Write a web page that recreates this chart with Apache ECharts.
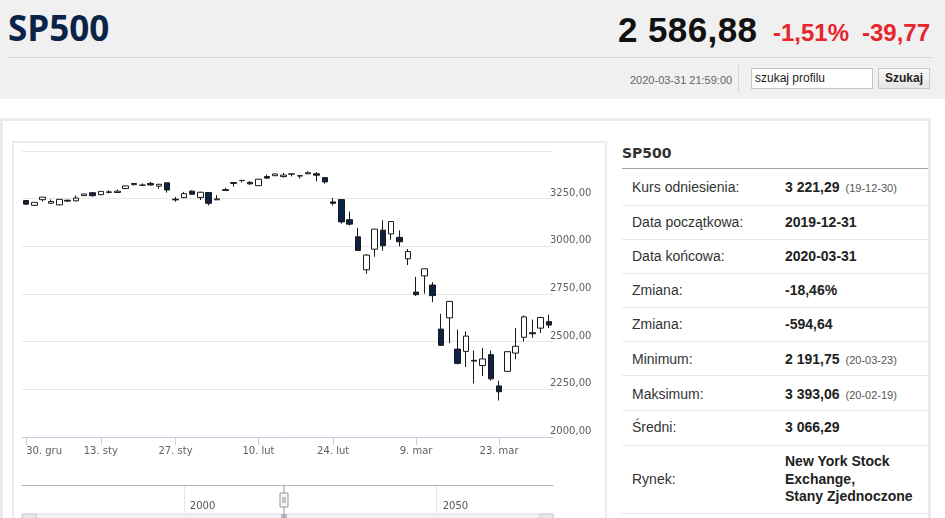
<!DOCTYPE html>
<html><head><meta charset="utf-8">
<script src="https://cdn.jsdelivr.net/npm/echarts@6/dist/echarts.min.js"></script>
<style>
html,body{margin:0;padding:0;width:945px;height:518px;overflow:hidden;background:#fff;font-family:"Liberation Sans",Arial,sans-serif;}
.abs{position:absolute;white-space:nowrap;}
#hdr{position:absolute;left:0;top:0;width:945px;height:99px;background:#f0f0f0;}
#panel{position:absolute;left:0;top:118px;width:931px;height:420px;border:3px solid #ebebeb;box-sizing:border-box;}
#box{position:absolute;left:12px;top:141px;width:595px;height:400px;border:2px solid #ececec;box-sizing:border-box;}
#chart{position:absolute;left:13px;top:142px;width:593px;height:376px;}
.lbl{position:absolute;left:632px;font-size:14px;color:#333;}
.val{position:absolute;left:785px;font-size:14px;color:#222;font-weight:bold;}
.sm{font-size:11px;color:#555;font-weight:normal;margin-left:6px;}
.sep{position:absolute;left:622px;width:306px;height:1px;background:#e8e8e8;}
</style></head>
<body>
<div id="hdr"></div>
<div class="abs" style="left:8px;top:8px;font-family:'Open Sans';font-weight:700;font-size:35px;line-height:40px;color:#0b2347;">SP500</div>
<div class="abs" style="left:618px;top:12px;font-weight:bold;font-size:35px;line-height:35px;color:#111;letter-spacing:0.4px;">2 586,88</div>
<div class="abs" style="left:773px;top:21px;font-weight:bold;font-size:24px;line-height:24px;color:#e8252b;">-1,51%</div>
<div class="abs" style="left:862px;top:21px;font-weight:bold;font-size:24px;line-height:24px;color:#e8252b;">-39,77</div>
<div class="abs" style="left:8px;top:57px;width:925px;height:1px;background:#d6d6d6;"></div>
<div class="abs" style="left:630px;top:74px;font-size:11px;line-height:12px;color:#666;">2020-03-31 21:59:00</div>
<div class="abs" style="left:738px;top:65px;width:1px;height:27px;background:#d6d6d6;"></div>
<div class="abs" style="left:751px;top:68px;width:122px;height:21px;background:#fff;border:1px solid #c4c4c4;box-sizing:border-box;font-size:12px;line-height:19px;padding-left:3px;color:#222;">szukaj profilu</div>
<div class="abs" style="left:878px;top:68px;width:52px;height:21px;background:linear-gradient(#fafafa,#e4e4e4);border:1px solid #c8c8c8;box-sizing:border-box;font-size:12px;font-weight:bold;line-height:19px;text-align:center;color:#222;">Szukaj</div>

<div id="panel"></div>
<div id="box"></div>
<div id="chart"></div>

<div class="abs" style="left:622px;top:143px;font-family:'DejaVu Sans';font-weight:bold;font-size:14px;line-height:20px;color:#333;">SP500</div>
<div class="abs" style="left:622px;top:168px;width:306px;height:1px;background:#a5a5a5;"></div>

<div class="lbl" style="top:179px;">Kurs odniesienia:</div><div class="val" style="top:179px;">3 221,29<span class="sm">(19-12-30)</span></div>
<div class="sep" style="top:205px;"></div>
<div class="lbl" style="top:214px;">Data początkowa:</div><div class="val" style="top:214px;">2019-12-31</div>
<div class="sep" style="top:239px;"></div>
<div class="lbl" style="top:248px;">Data końcowa:</div><div class="val" style="top:248px;">2020-03-31</div>
<div class="sep" style="top:273px;"></div>
<div class="lbl" style="top:282px;">Zmiana:</div><div class="val" style="top:282px;">-18,46%</div>
<div class="sep" style="top:307px;"></div>
<div class="lbl" style="top:316px;">Zmiana:</div><div class="val" style="top:316px;">-594,64</div>
<div class="sep" style="top:341px;"></div>
<div class="lbl" style="top:351px;">Minimum:</div><div class="val" style="top:351px;">2 191,75<span class="sm">(20-03-23)</span></div>
<div class="sep" style="top:375px;"></div>
<div class="lbl" style="top:386px;">Maksimum:</div><div class="val" style="top:386px;">3 393,06<span class="sm">(20-02-19)</span></div>
<div class="sep" style="top:410px;"></div>
<div class="lbl" style="top:419px;">Średni:</div><div class="val" style="top:419px;">3 066,29</div>
<div class="sep" style="top:445px;"></div>
<div class="lbl" style="top:471px;">Rynek:</div><div class="val" style="top:453px;line-height:17.5px;">New York Stock<br>Exchange,<br>Stany Zjednoczone</div>
<div class="sep" style="top:513px;"></div>

<script>
const dates = ['2019-12-30','2019-12-31','2020-01-02','2020-01-03','2020-01-06','2020-01-07','2020-01-08','2020-01-09','2020-01-10','2020-01-13','2020-01-14','2020-01-15','2020-01-16','2020-01-17','2020-01-21','2020-01-22','2020-01-23','2020-01-24','2020-01-27','2020-01-28','2020-01-29','2020-01-30','2020-01-31','2020-02-03','2020-02-04','2020-02-05','2020-02-06','2020-02-07','2020-02-10','2020-02-11','2020-02-12','2020-02-13','2020-02-14','2020-02-18','2020-02-19','2020-02-20','2020-02-21','2020-02-24','2020-02-25','2020-02-26','2020-02-27','2020-02-28','2020-03-02','2020-03-03','2020-03-04','2020-03-05','2020-03-06','2020-03-09','2020-03-10','2020-03-11','2020-03-12','2020-03-13','2020-03-16','2020-03-17','2020-03-18','2020-03-19','2020-03-20','2020-03-23','2020-03-24','2020-03-25','2020-03-26','2020-03-27','2020-03-30','2020-03-31'];
const opens = [3240.1,3215.2,3244.7,3226.4,3217.6,3241.9,3238.6,3266.0,3281.2,3271.1,
 3285.4,3282.3,3303.0,3323.7,3321.0,3330.0,3315.8,3333.1,3247.2,3255.4,
 3289.5,3256.5,3282.3,3244.0,3293.0,3330.0,3344.9,3335.5,3318.3,3365.9,
 3370.5,3365.9,3378.1,3369.0,3380.4,3380.5,3360.5,3233.0,3245.0,3139.9,
 3050.0,2877.0,2985.0,3085.0,3065.0,3047.0,2935.0,2760.0,2845.0,2797.0,
 2566.0,2625.0,2461.0,2449.0,2402.0,2375.0,2431.9,2268.0,2344.4,2440.0,
 2523.0,2547.0,2571.0,2605.0];
const closes = [3221.3,3230.8,3257.9,3234.9,3246.3,3237.2,3253.1,3274.7,3265.4,3288.1,
 3283.2,3289.3,3316.8,3329.6,3320.8,3321.8,3325.5,3295.5,3243.6,3276.2,
 3273.4,3283.7,3225.5,3248.9,3297.6,3334.7,3345.8,3327.7,3352.1,3357.8,
 3379.5,3373.9,3380.2,3370.3,3386.2,3373.2,3337.8,3225.9,3128.2,3116.4,
 2978.8,2954.2,3090.2,3003.4,3130.1,3023.9,2972.4,2746.6,2882.2,2741.4,
 2480.6,2711.0,2386.1,2529.2,2398.1,2409.4,2304.9,2237.4,2447.3,2475.6,
 2630.1,2541.5,2626.7,2586.9];
const lows = [3216.6,3212.0,3235.5,3222.3,3214.6,3232.4,3236.7,3263.7,3260.9,3268.4,
 3277.2,3280.7,3302.8,3318.9,3316.6,3320.0,3301.9,3281.5,3234.5,3253.2,
 3271.9,3242.8,3214.7,3243.0,3290.0,3313.8,3334.4,3322.1,3317.8,3352.7,
 3369.7,3360.5,3366.2,3355.6,3378.8,3341.0,3328.5,3214.7,3118.8,3109.0,
 2977.4,2855.8,2945.2,2976.6,3034.4,2999.8,2901.5,2740.0,2752.0,2707.2,
 2478.9,2492.4,2380.9,2367.0,2280.5,2319.8,2295.6,2191.8,2344.4,2407.5,
 2500.7,2520.0,2545.3,2571.2];
const highs = [3240.9,3231.7,3258.1,3246.2,3246.8,3244.9,3267.1,3275.6,3283.0,3288.1,
 3294.3,3298.7,3317.1,3329.9,3329.8,3337.8,3326.9,3333.2,3258.9,3285.8,
 3293.5,3285.9,3282.3,3268.4,3306.9,3337.6,3348.0,3341.4,3352.3,3375.6,
 3381.5,3385.1,3380.7,3375.0,3393.1,3389.2,3360.8,3254.0,3247.0,3182.5,
 3097.1,2959.7,3091.0,3136.7,3131.0,3083.0,2985.9,2840.0,2882.6,2812.0,
 2646.0,2711.3,2563.0,2553.9,2453.6,2467.0,2453.0,2295.0,2449.7,2571.4,
 2637.0,2615.9,2631.8,2641.4];
const tickIndex = [0,9,18,28,37,47,57];
const tickText = ['30. gru','13. sty','27. sty','10. lut','24. lut','9. mar','23. mar'];
const navFirstYear = 1968, navLastYear = 2073;
const navYears = [2000, 2050];

const candles = dates.map((d,i)=>[opens[i], closes[i], lows[i], highs[i]]);
const showTick = (i)=> tickIndex.indexOf(i) >= 0;
const navCats = [];
for (let y = navFirstYear; y <= navLastYear; y++) navCats.push(String(y));
const showNav = (i)=> navYears.indexOf(navFirstYear + i) >= 0;
const font = 'DejaVu Sans';

const chart = echarts.init(document.getElementById('chart'), null, {renderer:'canvas'});
chart.setOption({
  animation:false,
  grid:[
    {left:9, right:53, top:9, height:286},
    {left:9, right:53, top:343, height:28}
  ],
  xAxis:[
    {type:'category', gridIndex:0, data:dates, boundaryGap:true,
     axisLine:{lineStyle:{color:'#c0d0e0'}},
     axisTick:{show:true, length:8, alignWithLabel:true, interval:(i)=>showTick(i), lineStyle:{color:'#c0d0e0'}},
     axisLabel:{interval:(i)=>showTick(i), formatter:(v,i)=>tickText[tickIndex.indexOf(i)] || '', margin:9,
       color:'#606060', fontFamily:font, fontSize:10, alignMinLabel:'left'},
     splitLine:{show:false}},
    {type:'category', gridIndex:1, position:'top', data:navCats, boundaryGap:false,
     axisLine:{show:true, onZero:false, lineStyle:{color:'#b0b0b0'}},
     axisTick:{show:false},
     splitLine:{show:true, interval:(i)=>showNav(i), lineStyle:{color:'#e6e6e6'}},
     axisLabel:{inside:true, interval:(i)=>showNav(i), margin:21, align:'left', verticalAlign:'middle', padding:[0,0,0,6],
       color:'#555', fontFamily:font, fontSize:10}}
  ],
  yAxis:[
    {type:'value', gridIndex:0, position:'right', min:2000, max:3500, interval:250,
     axisLine:{show:false}, axisTick:{show:false},
     splitLine:{show:true, lineStyle:{color:'#e6e6e6'}},
     axisLabel:{margin:-3, align:'left', verticalAlign:'bottom', lineHeight:11, color:'#606060', fontFamily:font, fontSize:10,
       formatter:(v)=> v >= 3500 ? '' : v.toFixed(2).replace('.', ',')}},
    {type:'value', gridIndex:1, min:0, max:1, show:false}
  ],
  series:[
    {type:'candlestick', xAxisIndex:0, yAxisIndex:0, data:candles, barWidth:6,
     itemStyle:{color:'#ffffff', color0:'#0d2244', borderColor:'#1a1a1a', borderColor0:'#1a1a1a', borderWidth:1}},
    {type:'line', xAxisIndex:1, yAxisIndex:1, data:[], silent:true}
  ],
  graphic:[
    {type:'rect', shape:{x:9, y:372, width:531, height:8}, style:{fill:'#f2f2f2', stroke:'#dcdcdc'}, silent:true},
    {type:'rect', shape:{x:9, y:372, width:14, height:8}, style:{fill:'#e8e8e8', stroke:'#cccccc'}, silent:true},
    {type:'rect', shape:{x:527, y:372, width:13, height:8}, style:{fill:'#e8e8e8', stroke:'#cccccc'}, silent:true},
    {type:'rect', shape:{x:268, y:372, width:6, height:8}, style:{fill:'#b8bcc8'}, silent:true},
    {type:'line', shape:{x1:271, y1:343, x2:271, y2:376}, style:{stroke:'#999', lineWidth:1}, silent:true},
    {type:'rect', shape:{x:267, y:351, width:8, height:14}, style:{fill:'#f2f2f2', stroke:'#999', lineWidth:1}, silent:true},
    {type:'line', shape:{x1:270, y1:355, x2:270, y2:361}, style:{stroke:'#999', lineWidth:1}, silent:true},
    {type:'line', shape:{x1:272, y1:355, x2:272, y2:361}, style:{stroke:'#999', lineWidth:1}, silent:true}
  ]
});
</script>
</body></html>
